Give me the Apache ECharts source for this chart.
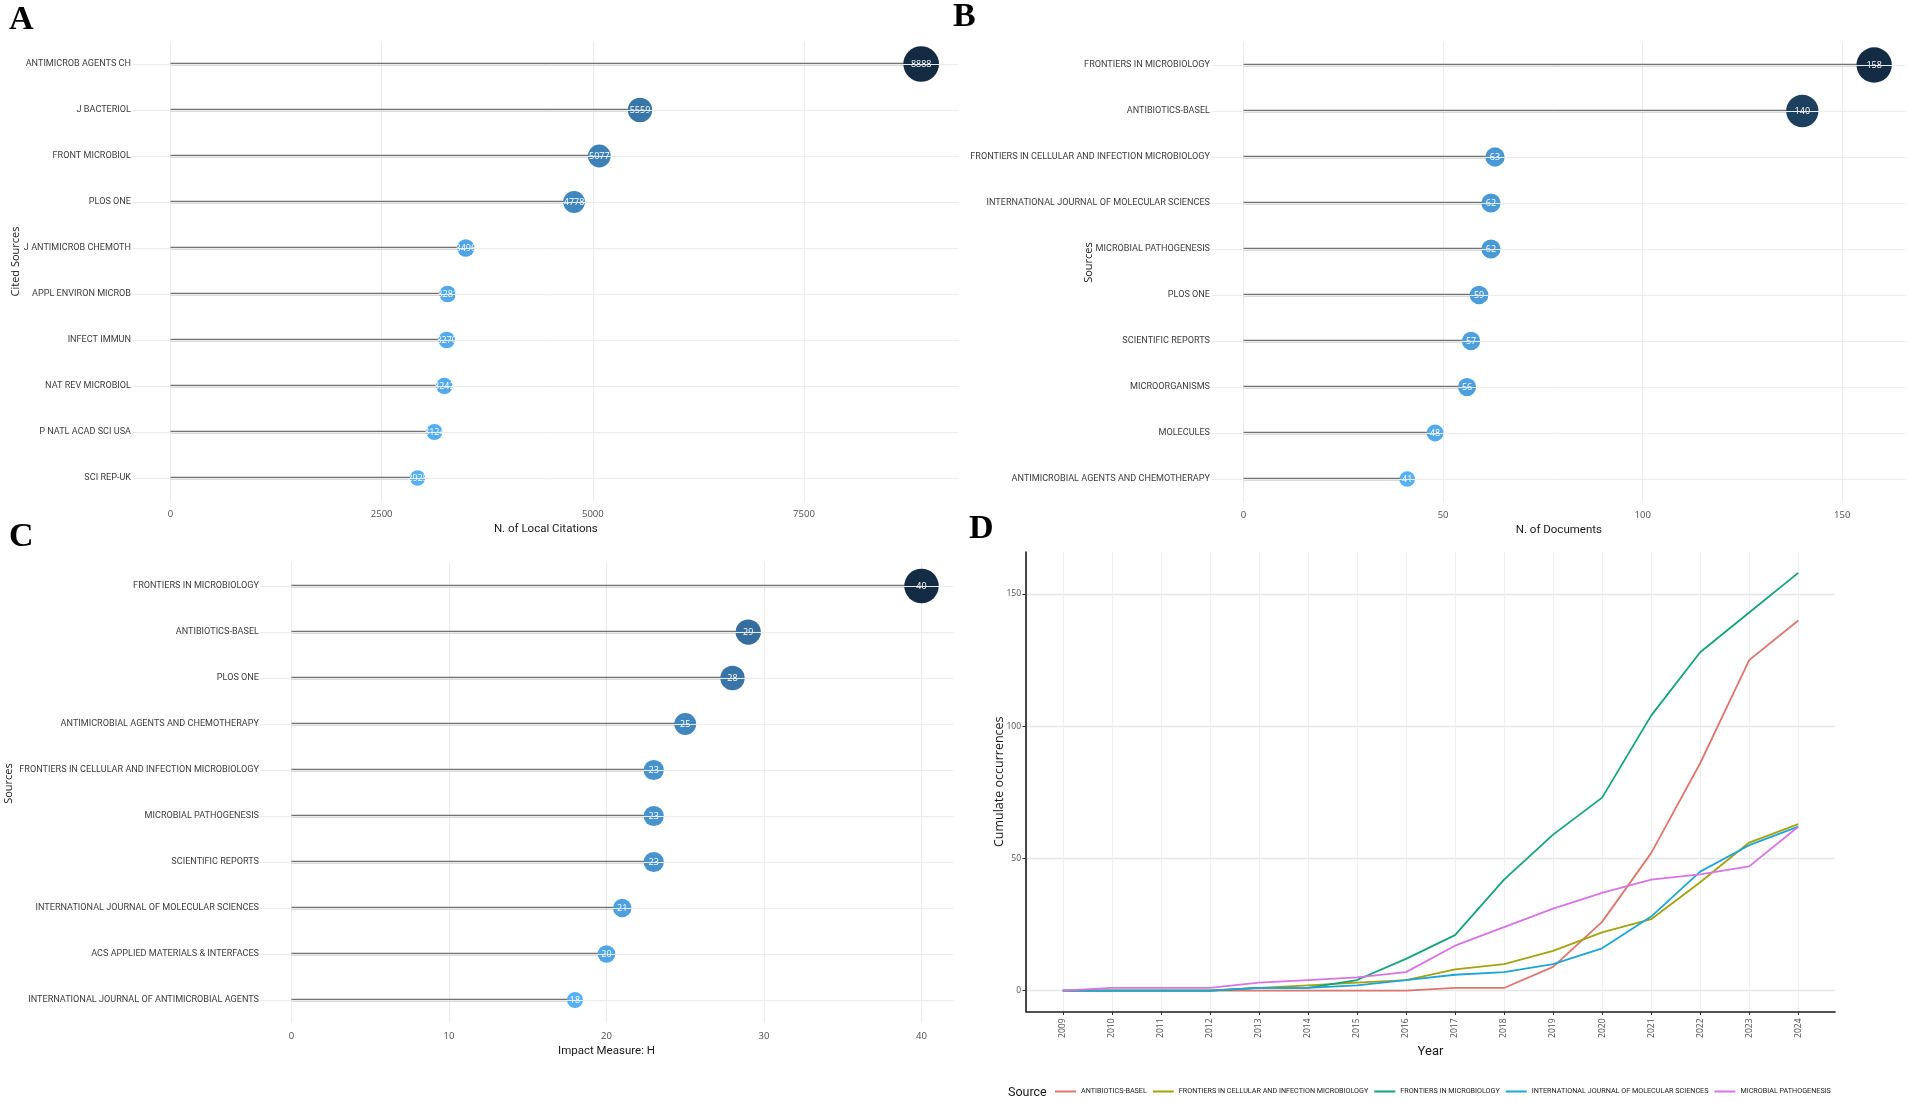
<!DOCTYPE html>
<html>
<head>
<meta charset="utf-8">
<title>Sources</title>
<script src="https://cdn.jsdelivr.net/npm/echarts@6.0.0/dist/echarts.min.js"></script>
<style>
html, body { margin: 0; padding: 0; background: #fff; }
#main { width: 1908px; height: 1102px; }
</style>
</head>
<body>
<div id="main"></div>
<script>
// A - most local cited sources
var citedSources = ['ANTIMICROB AGENTS CH', 'J BACTERIOL', 'FRONT MICROBIOL', 'PLOS ONE', 'J ANTIMICROB CHEMOTH',
    'APPL ENVIRON MICROB', 'INFECT IMMUN', 'NAT REV MICROBIOL', 'P NATL ACAD SCI USA', 'SCI REP-UK'];
var localCitations = [8888, 5559, 5077, 4778, 3496, 3281, 3270, 3242, 3124, 2925];
var citationTicks = [0, 2500, 5000, 7500];

// B - most relevant sources
var docSources = ['FRONTIERS IN MICROBIOLOGY', 'ANTIBIOTICS-BASEL', 'FRONTIERS IN CELLULAR AND INFECTION MICROBIOLOGY',
    'INTERNATIONAL JOURNAL OF MOLECULAR SCIENCES', 'MICROBIAL PATHOGENESIS', 'PLOS ONE', 'SCIENTIFIC REPORTS',
    'MICROORGANISMS', 'MOLECULES', 'ANTIMICROBIAL AGENTS AND CHEMOTHERAPY'];
var documents = [158, 140, 63, 62, 62, 59, 57, 56, 48, 41];
var documentTicks = [0, 50, 100, 150];

// C - sources local impact (h-index)
var hSources = ['FRONTIERS IN MICROBIOLOGY', 'ANTIBIOTICS-BASEL', 'PLOS ONE', 'ANTIMICROBIAL AGENTS AND CHEMOTHERAPY',
    'FRONTIERS IN CELLULAR AND INFECTION MICROBIOLOGY', 'MICROBIAL PATHOGENESIS', 'SCIENTIFIC REPORTS',
    'INTERNATIONAL JOURNAL OF MOLECULAR SCIENCES', 'ACS APPLIED MATERIALS & INTERFACES',
    'INTERNATIONAL JOURNAL OF ANTIMICROBIAL AGENTS'];
var hIndex = [40, 29, 28, 25, 23, 23, 23, 21, 20, 18];
var hTicks = [0, 10, 20, 30, 40];

// D - sources production over time
var years = [2009, 2010, 2011, 2012, 2013, 2014, 2015, 2016, 2017, 2018, 2019, 2020, 2021, 2022, 2023, 2024];
var antibioticsBasel = [0, 0, 0, 0, 0, 0, 0, 0, 1, 1, 9, 26, 52, 86, 125, 140];
var frontCellInfect = [0, 0, 0, 0, 1, 2, 3, 4, 8, 10, 15, 22, 27, 41, 56, 63];
var frontMicrobiol = [0, 0, 0, 0, 1, 1, 4, 12, 21, 42, 59, 73, 104, 128, 143, 158];
var intJMolSci = [0, 0, 0, 0, 1, 1, 2, 4, 6, 7, 10, 16, 28, 45, 55, 62];
var microbPathog = [0, 1, 1, 1, 3, 4, 5, 7, 17, 24, 31, 37, 42, 44, 47, 62];
var occurrenceTicks = [0, 50, 100, 150];
var lineNames = ['ANTIBIOTICS-BASEL', 'FRONTIERS IN CELLULAR AND INFECTION MICROBIOLOGY', 'FRONTIERS IN MICROBIOLOGY',
    'INTERNATIONAL JOURNAL OF MOLECULAR SCIENCES', 'MICROBIAL PATHOGENESIS'];
var lineColors = ['#dc766e', '#a3a312', '#14a37a', '#1ea5d8', '#d774e4'];

var narrow = 'Roboto';
var sans = 'Open Sans';
var plain = function (v) { return String(v); };

var chart = echarts.init(document.getElementById('main'));

// value axis of a lollipop panel
function valueAxis(grid, min, max, ticks, name, gap) {
    return {
        gridIndex: grid, type: 'value', min: min, max: max,
        name: name, nameLocation: 'middle', nameGap: gap,
        nameTextStyle: { fontFamily: narrow, fontSize: 11.5, color: '#1a1a1a' },
        axisLine: { show: false, onZero: false },
        axisTick: { show: false, customValues: ticks },
        axisLabel: { customValues: ticks, formatter: plain, margin: 8, fontFamily: sans, fontSize: 9.5, color: '#4d4d4d' },
        splitLine: { show: true, lineStyle: { color: '#ebebeb', width: 1 } }
    };
}
// category axis of a lollipop panel
function sourceAxis(grid, cats, name, gap, margin) {
    return {
        gridIndex: grid, type: 'category', data: cats, inverse: true,
        name: name, nameLocation: 'middle', nameGap: gap, nameMoveOverlap: false,
        nameTextStyle: { fontFamily: sans, fontSize: 11, color: '#1a1a1a', padding: [0, 0, 0, 19] },
        axisLine: { show: false, onZero: false },
        axisTick: { show: false },
        axisLabel: { margin: margin, fontFamily: narrow, fontSize: 9.1, color: '#3d3d3d' },
        splitLine: { show: false }
    };
}
// rows, stems and dots of a lollipop panel
function lollipop(grid, cats, vals) {
    return [{
        type: 'line', xAxisIndex: grid, yAxisIndex: grid, data: [], silent: true, z: 1,
        markLine: {
            silent: true, symbol: 'none', animation: false, label: { show: false },
            lineStyle: { color: '#ebebeb', width: 1, type: 'solid' },
            data: cats.map(function (c) { return { yAxis: c }; })
        }
    }, {
        type: 'bar', xAxisIndex: grid, yAxisIndex: grid, data: vals, barWidth: 2.5, silent: true, z: 2,
        itemStyle: { color: '#727272' }
    }, {
        type: 'scatter', xAxisIndex: grid, yAxisIndex: grid, z: 3, silent: true,
        data: vals.map(function (v, i) { return [v, cats[i]]; }),
        itemStyle: { opacity: 1 },
        label: {
            show: true, position: 'inside', color: '#fff', fontFamily: sans, fontSize: 9,
            formatter: function (p) { return p.value[0]; }
        }
    }];
}
function dotScale(series, vals, sizes) {
    return {
        type: 'continuous', show: false, seriesIndex: series, dimension: 0,
        min: Math.min.apply(null, vals), max: Math.max.apply(null, vals),
        inRange: { color: ['#56B1F7', '#132B43'], symbolSize: sizes }
    };
}

var series = [].concat(
    lollipop(0, citedSources, localCitations),
    lollipop(1, docSources, documents),
    lollipop(2, hSources, hIndex)
);
var lines = [antibioticsBasel, frontCellInfect, frontMicrobiol, intJMolSci, microbPathog];
lines.forEach(function (arr, k) {
    series.push({
        name: lineNames[k], type: 'line', xAxisIndex: 3, yAxisIndex: 3, z: 3, silent: true,
        symbol: 'none', color: lineColors[k],
        lineStyle: { width: 1.8, color: lineColors[k] },
        data: years.map(function (y, i) { return [y, arr[i]]; })
    });
});

var letter = { fontFamily: 'Liberation Serif', fontWeight: 'bold', fontSize: 34, color: '#000' };

option = {
    backgroundColor: '#fff',
    animation: false,
    title: [
        { text: 'A', left: 9, top: 3, padding: 0, textStyle: letter },
        { text: 'B', left: 953, top: 0, padding: 0, textStyle: letter },
        { text: 'C', left: 9, top: 520, padding: 0, textStyle: letter },
        { text: 'D', left: 969, top: 512, padding: 0, textStyle: letter },
        { text: 'Source', left: 1008, top: 1086, padding: 0,
          textStyle: { fontFamily: narrow, fontSize: 12.5, fontWeight: 'normal', color: '#1a1a1a' } }
    ],
    legend: {
        data: lineNames, left: 1055, top: 1088, padding: 0, width: 850,
        icon: 'rect', itemWidth: 21, itemHeight: 2, itemGap: 6,
        selectedMode: false,
        textStyle: { fontFamily: narrow, fontSize: 7.2, color: '#1a1a1a' }
    },
    grid: [
        { left: 133, top: 41, width: 825.7, height: 460, outerBoundsMode: 'none' },
        { left: 1212, top: 42, width: 693.7, height: 460, outerBoundsMode: 'none' },
        { left: 260, top: 563, width: 693, height: 460, outerBoundsMode: 'none' },
        { left: 1026, top: 552, width: 809, height: 459.5, outerBoundsMode: 'none' }
    ],
    xAxis: [
        valueAxis(0, -444.4, 9332.4, citationTicks, 'N. of Local Citations', 22),
        valueAxis(1, -7.9, 165.9, documentTicks, 'N. of Documents', 22.5),
        valueAxis(2, -2, 42, hTicks, 'Impact Measure: H', 22.5),
        {
            gridIndex: 3, type: 'value', min: 2008.25, max: 2024.75,
            name: 'Year', nameLocation: 'middle', nameGap: 33.5,
            nameTextStyle: { fontFamily: narrow, fontSize: 13, color: '#1a1a1a' },
            axisLine: { show: true, onZero: false, lineStyle: { color: '#1a1a1a', width: 1.6 } },
            axisTick: { show: true, customValues: years, length: 3.5, lineStyle: { color: '#333', width: 1 } },
            axisLabel: { customValues: years, formatter: plain, rotate: 90, margin: 7, fontFamily: sans, fontSize: 8.5, color: '#4d4d4d' },
            splitLine: { show: true, lineStyle: { color: '#ececec', width: 0.8 } }
        }
    ],
    yAxis: [
        sourceAxis(0, citedSources, 'Cited Sources', 112, 2),
        sourceAxis(1, docSources, 'Sources', 118, 2),
        sourceAxis(2, hSources, 'Sources', 246, 1),
        {
            gridIndex: 3, type: 'value', min: -7.9, max: 165.9,
            name: 'Cumulate occurrences', nameLocation: 'middle', nameGap: 20, nameMoveOverlap: false,
            nameTextStyle: { fontFamily: sans, fontSize: 12.5, color: '#1a1a1a' },
            axisLine: { show: true, onZero: false, lineStyle: { color: '#1a1a1a', width: 1.6 } },
            axisTick: { show: true, customValues: occurrenceTicks, length: 3.5, lineStyle: { color: '#333', width: 1 } },
            axisLabel: { customValues: occurrenceTicks, formatter: plain, margin: 5, fontFamily: sans, fontSize: 8.5, color: '#4d4d4d' },
            splitLine: { show: true, lineStyle: { color: '#e6e6e6', width: 1.4 } }
        }
    ],
    visualMap: [
        dotScale(2, localCitations, [15.5, 35.7]),
        dotScale(5, documents, [15.7, 35.3]),
        dotScale(8, hIndex, [16, 34.5])
    ],
    series: series
};

chart.setOption(option);
</script>
</body>
</html>
